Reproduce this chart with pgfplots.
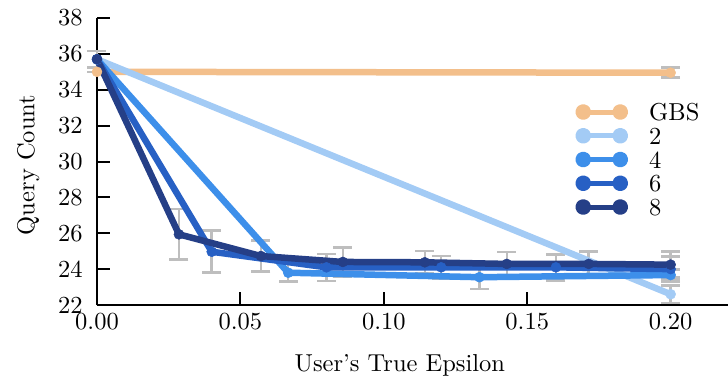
\documentclass[border=0pt]{standalone}
\usepackage{pgfplots}
\pgfplotsset{compat=1.18}
\usepackage{pgfplotstable}
\definecolor{cGBS}{HTML}{F3BF8B}
\definecolor{cTwo}{HTML}{A3CBF5}
\definecolor{cFour}{HTML}{3D8FEA}
\definecolor{cSix}{HTML}{2760C4}
\definecolor{cEight}{HTML}{253F87}
\definecolor{cErr}{HTML}{BEBEBE}
\DeclareFontFamily{TU}{lmten}{}
\DeclareFontShape{TU}{lmten}{m}{n}{<-> "[lmroman10-regular.otf]:+tlig;"}{}
\renewcommand{\rmdefault}{lmten}
\pgfplotstableread{
x y e
0 35.0 0
0.2 34.95 0.28
}\dGBS
\pgfplotstableread{
x y e
0 35.7 0.45
0.2 22.6 0.5
}\dTwo
\pgfplotstableread{
x y e
0 35.7 0.45
0.06667 23.8 0.5
0.13333 23.55 0.65
0.2 23.67 0.3
}\dFour
\pgfplotstableread{
x y e
0 35.7 0.45
0.04 24.97 1.17
0.08 24.1 0.75
0.12 24.1 0.64
0.16 24.1 0.72
0.2 24.0 0.7
}\dSix
\pgfplotstableread{
x y e
0 35.7 0.45
0.02857 25.94 1.4
0.05714 24.73 0.86
0.08571 24.4 0.8
0.11429 24.38 0.62
0.14286 24.29 0.67
0.17143 24.29 0.7
0.2 24.25 0.72
}\dEight
\pgfplotsset{
  errstyle/.style={draw=none, mark=none, forget plot,
    error bars/.cd, y dir=both, y explicit,
    error bar style={draw=cErr, line width=2.5pt},
    error mark options={draw=cErr, mark size=9.5pt, line width=2.5pt, rotate=90}},
  linestyle/.style={#1, line width=6.5pt, mark=*, mark size=5pt, line join=round, line cap=round,
    mark options={solid, line width=0.5pt, fill=#1, draw=#1}}
}
\begin{document}
\fontsize{24.5}{29}\selectfont
\begin{tikzpicture}[font=\fontsize{24.5}{29}\selectfont]
\begin{axis}[
  at={(0,0)}, anchor=south west,
  scale only axis, width=631pt, height=287pt,
  xmin=0, xmax=0.22, ymin=22, ymax=38,
  axis lines=left, axis line style={-, line width=2.5pt, black},
  tick align=inside, major tick length=13pt, tick style={line width=2pt, black},
  xtick={0,0.05,0.1,0.15,0.2},
  ytick={22,24,26,28,30,32,34,36,38},
  scaled x ticks=false,
  xticklabel style={/pgf/number format/.cd, fixed, fixed zerofill, precision=2},
  yticklabel style={xshift=-6pt},
  /pgf/number format/assume math mode=true,
  xlabel={User’s True Epsilon}, ylabel={Query Count},
  xlabel style={at={(axis description cs:0.48,-0.209)}, anchor=center},
  ylabel style={at={(axis description cs:-0.109,0.488)}, anchor=center},
  clip=false,
  legend cell align=left,
  legend style={draw=none, fill=none, at={(axis description cs:0.758,0.702)}, anchor=north west,
    inner sep=0pt, outer sep=0pt,
    nodes={inner sep=0pt, text height=17pt, text depth=0pt},
    row sep=6.75pt,
    /tikz/every odd column/.append style={column sep=21pt}},
  legend image code/.code={
    \draw[#1, mark=none, line width=5pt] (0pt,0pt) -- (37pt,0pt);
    \fill[#1] (0pt,0pt) circle[radius=4.7pt] (37pt,0pt) circle[radius=4.7pt];
  },
]
\addplot[errstyle] table[x=x,y=y,y error=e]{\dGBS};
\addplot[errstyle] table[x=x,y=y,y error=e]{\dTwo};
\addplot[errstyle] table[x=x,y=y,y error=e]{\dFour};
\addplot[errstyle] table[x=x,y=y,y error=e]{\dSix};
\addplot[errstyle] table[x=x,y=y,y error=e]{\dEight};
\addplot[linestyle=cGBS] table[x=x,y=y]{\dGBS};
\addlegendentry{GBS}
\addplot[linestyle=cTwo] table[x=x,y=y]{\dTwo};
\addlegendentry{2}
\addplot[linestyle=cFour] table[x=x,y=y]{\dFour};
\addlegendentry{4}
\addplot[linestyle=cSix] table[x=x,y=y]{\dSix};
\addlegendentry{6}
\addplot[linestyle=cEight] table[x=x,y=y]{\dEight};
\addlegendentry{8}
\end{axis}
\pgfresetboundingbox
\useasboundingbox (-97pt,-76pt) rectangle (631pt,305pt);
\end{tikzpicture}
\end{document}
